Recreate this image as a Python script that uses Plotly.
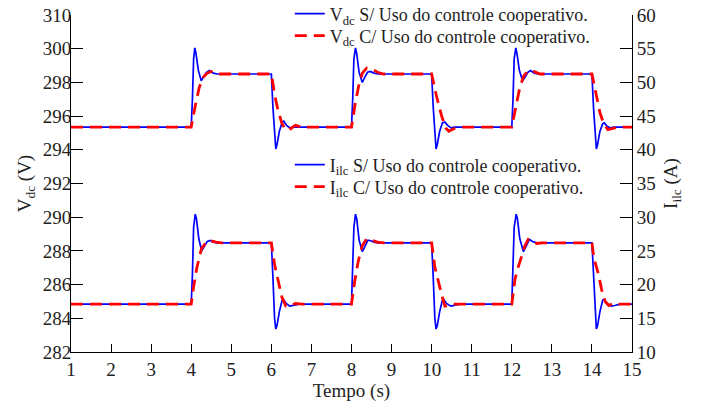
import plotly.graph_objects as go

# ---------------- data ----------------
# Vdc without cooperative control (blue, left axis)
vdc_s_t = [1.0, 4.0, 4.03, 4.06, 4.09, 4.12, 4.18, 4.25, 4.3, 4.38, 4.46, 4.55, 4.65,
           6.0, 6.04, 6.08, 6.11, 6.14, 6.2, 6.27, 6.31, 6.38, 6.46, 6.55,
           8.0, 8.03, 8.06, 8.1, 8.13, 8.19, 8.27, 8.33, 8.4, 8.47, 8.56, 8.66,
           10.0, 10.04, 10.08, 10.11, 10.14, 10.2, 10.27, 10.33, 10.4, 10.48, 10.57,
           12.0, 12.03, 12.06, 12.1, 12.13, 12.19, 12.27, 12.33, 12.4, 12.47, 12.56, 12.66,
           14.0, 14.04, 14.08, 14.11, 14.14, 14.2, 14.27, 14.31, 14.38, 14.46, 14.55, 15.0]
vdc_s_v = [295.35, 295.35, 297.0, 299.4, 300.05, 299.7, 298.7, 298.1, 298.3, 298.6, 298.7, 298.55, 298.5,
           298.5, 296.5, 294.6, 294.05, 294.3, 295.1, 295.65, 295.7, 295.45, 295.3, 295.35,
           295.35, 297.0, 299.4, 300.05, 299.7, 298.6, 298.0, 298.3, 298.6, 298.65, 298.55, 298.5,
           298.5, 296.5, 294.6, 294.05, 294.3, 295.1, 295.6, 295.65, 295.45, 295.3, 295.35,
           295.35, 297.0, 299.4, 300.05, 299.7, 298.7, 298.1, 298.3, 298.6, 298.7, 298.55, 298.5,
           298.5, 296.5, 294.6, 294.05, 294.3, 295.1, 295.55, 295.6, 295.4, 295.3, 295.35, 295.35]

# Vdc with cooperative control (red dashed, left axis)
vdc_c_t = [1.0, 4.0, 4.1, 4.2, 4.3, 4.4, 4.5, 4.6, 4.7,
           6.0, 6.08, 6.17, 6.26, 6.35, 6.45, 6.6, 6.75,
           8.0, 8.09, 8.18, 8.27, 8.38, 8.5, 8.65, 8.8,
           10.0, 10.12, 10.25, 10.35, 10.43, 10.55, 10.7,
           12.0, 12.1, 12.2, 12.3, 12.42, 12.55, 12.7,
           14.0, 14.1, 14.2, 14.3, 14.4, 14.5, 14.65, 15.0]
vdc_c_v = [295.35, 295.35, 296.6, 297.7, 298.3, 298.55, 298.65, 298.55, 298.5,
           298.5, 297.3, 296.3, 295.6, 295.2, 295.2, 295.45, 295.35,
           295.35, 296.7, 297.8, 298.55, 298.85, 298.8, 298.6, 298.5,
           298.5, 297.2, 296.0, 295.3, 295.1, 295.25, 295.35,
           295.35, 296.6, 297.7, 298.4, 298.7, 298.65, 298.5,
           298.5, 297.3, 296.2, 295.5, 295.2, 295.25, 295.35, 295.35]

# Iilc without cooperative control (blue, right axis)
ilc_s_t = [1.0, 4.0, 4.03, 4.06, 4.1, 4.13, 4.19, 4.26, 4.32, 4.4, 4.47, 4.55, 4.65,
           6.0, 6.04, 6.08, 6.11, 6.14, 6.2, 6.27, 6.3, 6.37, 6.46, 6.55, 6.7,
           8.0, 8.03, 8.06, 8.1, 8.13, 8.19, 8.27, 8.33, 8.41, 8.48, 8.56, 8.66,
           10.0, 10.04, 10.08, 10.11, 10.14, 10.2, 10.27, 10.3, 10.37, 10.48, 10.57, 10.7,
           12.0, 12.03, 12.06, 12.11, 12.14, 12.2, 12.29, 12.35, 12.44, 12.52, 12.62,
           14.0, 14.04, 14.08, 14.11, 14.14, 14.2, 14.27, 14.3, 14.38, 14.48, 14.57, 14.7, 15.0]
ilc_s_v = [17.1, 17.1, 21.5, 28.5, 30.45, 29.8, 26.8, 25.0, 25.6, 26.4, 26.55, 26.3, 26.2,
           26.2, 21.0, 15.0, 13.4, 13.9, 16.0, 17.7, 17.8, 17.2, 16.8, 16.9, 17.1,
           17.1, 21.5, 28.5, 30.45, 29.8, 26.6, 24.9, 25.6, 26.6, 26.5, 26.3, 26.2,
           26.2, 21.0, 15.0, 13.4, 13.9, 16.0, 17.7, 17.8, 17.2, 16.8, 16.9, 17.1,
           17.1, 21.5, 28.5, 30.45, 29.8, 26.8, 24.9, 25.6, 26.7, 26.4, 26.2,
           26.2, 21.0, 15.0, 13.4, 13.9, 16.0, 17.7, 17.8, 17.2, 16.8, 16.9, 17.1, 17.1]

# Iilc with cooperative control (red dashed, right axis)
ilc_c_t = [1.0, 4.0, 4.05, 4.14, 4.26, 4.38, 4.5, 4.62, 4.75,
           6.0, 6.08, 6.17, 6.26, 6.36, 6.45, 6.6, 6.75,
           8.0, 8.08, 8.17, 8.27, 8.38, 8.5, 8.65, 8.8,
           10.0, 10.08, 10.17, 10.25, 10.33, 10.42, 10.53,
           12.0, 12.08, 12.16, 12.24, 12.33, 12.41, 12.5, 12.62, 12.75,
           14.0, 14.05, 14.16, 14.24, 14.33, 14.42, 14.53, 14.65, 15.0]
ilc_c_v = [17.1, 17.1, 19.3, 22.5, 25.4, 26.3, 26.5, 26.3, 26.2,
           26.2, 23.0, 20.4, 18.2, 16.8, 16.8, 17.2, 17.1,
           17.1, 20.5, 23.5, 25.8, 26.8, 26.6, 26.3, 26.2,
           26.2, 22.6, 20.3, 18.5, 16.8, 16.9, 17.1,
           17.1, 20.8, 22.6, 24.1, 25.8, 26.7, 26.5, 26.1, 26.2,
           26.2, 23.9, 21.6, 19.3, 17.5, 16.9, 17.2, 17.1, 17.1]

x_ticks = list(range(1, 16))
left_tickvals = [282, 284, 286, 288, 290, 292, 294, 296, 298, 300, 302]
left_ticktext = ["282", "284", "286", "288", "290", "292", "294", "296", "298", "300", "310"]
right_tickvals = [10, 15, 20, 25, 30, 35, 40, 45, 50, 55, 60]

names = ["V<sub>dc</sub> S/ Uso do controle cooperativo.",
         "V<sub>dc</sub> C/ Uso do controle cooperativo.",
         "I<sub>ilc</sub> S/ Uso do controle cooperativo.",
         "I<sub>ilc</sub> C/ Uso do controle cooperativo."]

# ---------------- figure ----------------
FONT = "Liberation Serif, 'Times New Roman', Times, serif"
FS = 19
LFS = 18
TXT = "#222222"
BLUE = "#0000FF"
RED = "#FF0000"
DASH = "12px,7px"

fig = go.Figure()
fig.add_trace(go.Scatter(x=vdc_s_t, y=vdc_s_v, mode="lines", name=names[0],
                         line=dict(color=BLUE, width=1.7), legend="legend", yaxis="y"))
fig.add_trace(go.Scatter(x=vdc_c_t, y=vdc_c_v, mode="lines", name=names[1],
                         line=dict(color=RED, width=2.8, dash=DASH), legend="legend2", yaxis="y"))
fig.add_trace(go.Scatter(x=ilc_s_t, y=ilc_s_v, mode="lines", name=names[2],
                         line=dict(color=BLUE, width=1.7), legend="legend3", yaxis="y2"))
fig.add_trace(go.Scatter(x=ilc_c_t, y=ilc_c_v, mode="lines", name=names[3],
                         line=dict(color=RED, width=2.8, dash=DASH), legend="legend4", yaxis="y2"))

axis_common = dict(showgrid=False, zeroline=False, showline=True, linecolor="black",
                   linewidth=1, ticks="inside", tickcolor="black", automargin=False,
                   tickfont=dict(family=FONT, size=FS, color=TXT))

def leg(yc):
    return dict(x=0.39, y=yc, xanchor="left", yanchor="middle", bgcolor="rgba(0,0,0,0)",
                font=dict(family=FONT, size=LFS, color=TXT), itemwidth=30)

fig.update_layout(
    width=702, height=404,
    margin=dict(l=71, r=70, t=15, b=52, autoexpand=False),
    paper_bgcolor="white", plot_bgcolor="white",
    font=dict(family=FONT, size=FS, color=TXT),
    xaxis=dict(range=[1, 15], tickvals=x_ticks, ticklen=8,
               title=dict(text="Tempo (s)", font=dict(family=FONT, size=FS, color=TXT), standoff=0),
               **axis_common),
    yaxis=dict(range=[282, 302], tickvals=left_tickvals, ticktext=left_ticktext, ticklen=12,
               ticklabelstandoff=-5,
               title=dict(text="V<sub>dc</sub> (V)", font=dict(family=FONT, size=FS, color=TXT), standoff=6),
               **axis_common),
    yaxis2=dict(range=[10, 60], tickvals=right_tickvals, ticklen=12, overlaying="y", side="right",
                title=dict(text="I<sub>ilc</sub> (A)", font=dict(family=FONT, size=FS, color=TXT), standoff=8),
                **axis_common),
    legend=leg(1.003),
    legend2=leg(0.938),
    legend3=leg(0.555),
    legend4=leg(0.490),
    showlegend=True,
)

fig.write_html("out.html", config={"displayModeBar": False},
               post_script="document.body.style.margin='0';")
